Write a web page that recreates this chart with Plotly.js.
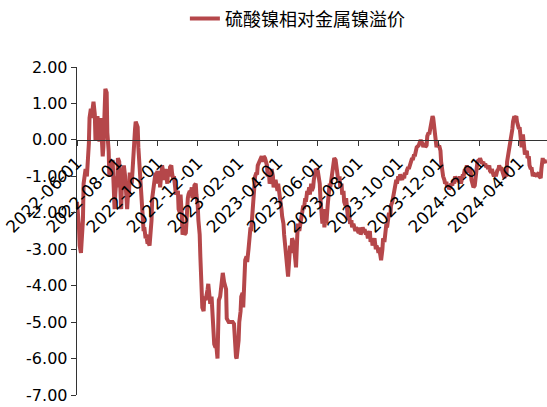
<!DOCTYPE html>
<html>
<head>
<meta charset="utf-8">
<script src="https://cdn.plot.ly/plotly-3.0.1.min.js"></script>
<style>
html,body{margin:0;padding:0;background:#fff;}
#chart{width:547px;height:407px;}
</style>
</head>
<body>
<div id="chart"></div>
<script>
// ---- data ----
const seriesName = '硫酸镍相对金属镍溢价';

const days30 = [1,2,4,5,7,8,10,11,13,14,16,17,19,20,22,23,25,26,28,29];
const days31 = [1,2,4,5,7,8,10,11,13,14,16,17,19,20,22,23,25,26,28,29,31];
const days28 = [1,2,4,5,7,8,10,11,13,14,16,17,19,20,22,23,25,26,28];
const daysMay24 = [1,2,4,5,7,8,10,11];

const months = ['2022-06','2022-07','2022-08','2022-09','2022-10','2022-11','2022-12',
  '2023-01','2023-02','2023-03','2023-04','2023-05','2023-06','2023-07','2023-08','2023-09','2023-10','2023-11','2023-12',
  '2024-01','2024-02','2024-03','2024-04','2024-05'];
const monthDays = [days30,days31,days30,days30,days30,days30,days31,
  days30,days28,days30,days30,days30,days30,days30,days31,days30,days30,days30,days30,
  days31,days28,days30,days30,daysMay24];

const v2022_06 = [-1.7,-1.9,-2.4,-2.9,-3.1,-2.8,-2.2,-1.2,-0.85,-0.8,-1.0,-0.8,-0.1,0.6,0.85,0.6,0.9,1.05,0.7,0.0];
const v2022_07 = [0.55,0.65,0.3,-0.05,0.6,-0.1,-0.45,-0.2,0.9,1.4,1.3,0.2,-0.3,-1.0,-0.6,-0.8,-0.55,-1.3,-1.9,-1.5,-1.0];
const v2022_08 = [-1.3,-0.5,-0.6,-1.2,-1.9,-1.3,-0.8,-0.7,-1.0,-1.5,-1.9,-1.6,-1.4,-0.9,-1.1,-1.2,-0.6,0.0,0.3,0.5];
const v2022_09 = [0.35,-0.2,-0.8,-1.0,-1.5,-2.0,-2.5,-2.4,-2.7,-2.6,-2.85,-2.8,-2.9,-2.7,-2.2,-1.6,-1.3,-1.1,-0.9,-1.0];
const v2022_10 = [-0.85,-1.2,-1.0,-1.3,-1.0,-0.7,-0.9,-1.1,-0.8,-0.9,-1.2,-0.8,-1.0,-0.75,-0.7,-0.9,-1.1,-1.0,-1.3,-1.5];
const v2022_11 = [-1.4,-1.9,-2.0,-1.5,-2.1,-2.6,-2.5,-2.6,-2.55,-2.0,-1.6,-1.5,-1.4,-1.5,-1.3,-1.6,-1.5,-1.25,-1.2,-1.5];
const v2022_12 = [-1.8,-2.2,-2.6,-3.2,-3.9,-4.6,-4.7,-4.3,-4.4,-4.2,-4.1,-3.95,-4.3,-4.5,-4.3,-4.6,-5.5,-5.6,-5.7,-5.6,-6.0];
const v2023_01 = [-5.2,-4.4,-4.3,-4.1,-3.8,-3.65,-3.9,-4.0,-4.1,-4.9,-5.0,-5.0,-5.0,-5.0,-5.0,-5.0,-5.05,-5.5,-5.95,-6.0];
const v2023_02 = [-5.5,-5.0,-4.7,-4.3,-4.2,-4.6,-3.5,-3.3,-3.2,-3.35,-3.0,-2.6,-2.4,-2.5,-2.0,-1.6,-1.3,-1.0,-0.9];
const v2023_03 = [-0.95,-0.7,-0.6,-0.55,-0.5,-0.45,-0.6,-0.45,-0.5,-0.55,-0.7,-1.0,-0.9,-1.2,-1.1,-0.8,-1.0,-1.3,-1.2,-1.1];
const v2023_04 = [-1.4,-1.2,-1.5,-1.6,-1.9,-2.1,-2.3,-2.6,-3.0,-3.3,-3.6,-3.75,-3.2,-2.9,-3.1,-2.7,-2.8,-2.9,-3.3,-3.5];
const v2023_05 = [-2.6,-2.3,-2.5,-2.4,-2.1,-2.0,-1.8,-1.9,-1.6,-1.7,-1.4,-1.5,-1.3,-1.5,-1.2,-1.4,-1.3,-1.1,-0.9,-0.8];
const v2023_06 = [-0.85,-1.0,-1.2,-1.6,-2.0,-2.3,-1.9,-2.4,-2.1,-2.3,-1.8,-1.4,-1.2,-1.3,-1.0,-0.8,-0.6,-0.5,-0.55,-0.7];
const v2023_07 = [-0.9,-1.1,-1.0,-1.3,-1.2,-1.5,-1.4,-1.7,-1.8,-1.6,-2.0,-2.2,-2.1,-2.3,-2.2,-2.4,-2.3,-2.4,-2.5,-2.4];
const v2023_08 = [-2.5,-2.55,-2.4,-2.6,-2.5,-2.4,-2.5,-2.45,-2.6,-2.5,-2.7,-2.6,-2.5,-2.8,-2.7,-2.9,-2.8,-2.7,-3.0,-2.9,-3.0];
const v2023_09 = [-3.1,-2.95,-3.2,-3.3,-3.0,-2.7,-2.8,-2.5,-2.3,-2.4,-2.2,-2.0,-2.1,-1.8,-1.7,-1.6,-1.5,-1.4,-1.1,-1.2];
const v2023_10 = [-1.0,-1.1,-0.95,-1.0,-1.1,-1.0,-1.05,-0.9,-0.95,-0.85,-0.75,-0.8,-0.7,-0.6,-0.5,-0.55,-0.4,-0.45,-0.3,-0.2];
const v2023_11 = [-0.15,-0.05,0.0,-0.05,-0.1,-0.2,-0.1,-0.2,-0.15,0.1,0.2,0.15,0.4,0.55,0.65,0.6,0.3,0.0,-0.2,-0.1];
const v2023_12 = [-0.2,-0.15,-0.3,-0.6,-0.9,-1.0,-1.1,-1.2,-1.15,-1.3,-1.25,-1.35,-1.3,-1.2,-1.25,-1.1,-1.2,-1.0,-1.1,-1.05];
const v2024_01 = [-1.15,-1.0,-1.2,-1.1,-0.95,-1.0,-0.8,-0.9,-0.7,-0.8,-0.9,-0.75,-0.9,-1.1,-1.2,-1.3,-1.25,-1.1,-0.9,-0.6,-0.55];
const v2024_02 = [-0.6,-0.5,-0.6,-0.65,-0.6,-0.7,-0.65,-0.75,-0.7,-0.8,-0.7,-0.85,-0.9,-0.8,-0.95,-1.0,-0.9,-1.0,-0.85];
const v2024_03 = [-0.8,-0.7,-0.8,-0.75,-0.9,-1.0,-1.05,-0.95,-1.0,-0.6,-0.4,-0.3,-0.1,0.05,0.3,0.5,0.65,0.6,0.65,0.5];
const v2024_04 = [0.3,0.35,0.1,-0.2,0.15,-0.1,-0.4,-0.35,-0.3,-0.5,-0.45,-0.7,-0.8,-0.75,-1.0,-0.9,-1.0,-0.95,-1.0,-0.95];
const v2024_05 = [-0.9,-1.0,-1.05,-0.8,-0.5,-0.6,-0.55,-0.65];

const monthValues = [v2022_06,v2022_07,v2022_08,v2022_09,v2022_10,v2022_11,v2022_12,
  v2023_01,v2023_02,v2023_03,v2023_04,v2023_05,v2023_06,v2023_07,v2023_08,v2023_09,v2023_10,v2023_11,v2023_12,
  v2024_01,v2024_02,v2024_03,v2024_04,v2024_05];

const xTickVals = ['2022-06-01','2022-08-01','2022-10-01','2022-12-01','2023-02-01','2023-04-01',
  '2023-06-01','2023-08-01','2023-10-01','2023-12-01','2024-02-01','2024-04-01'];
const yTickVals = [2,1,0,-1,-2,-3,-4,-5,-6,-7];
const yTickText = ['2.00','1.00','0.00','-1.00','-2.00','-3.00','-4.00','-5.00','-6.00','-7.00'];
const xRange = ['2022-06-01','2024-05-13 12:00'];
const yRange = [-7, 2];

// ---- build trace from the arrays ----
const pad = d => (d < 10 ? '0' : '') + d;
const xs = [], ys = [];
months.forEach((m, i) => {
  const dd = monthDays[i], vv = monthValues[i];
  const n = Math.min(dd.length, vv.length);
  for (let j = 0; j < n; j++) { xs.push(m + '-' + pad(dd[j])); ys.push(vv[j]); }
});

const lineColor = '#B5474A';
const yFont = {family: 'DejaVu Sans, Liberation Sans, Arial, sans-serif', size: 16, color: '#000'};
const xFont = {family: 'DejaVu Sans, Liberation Sans, Arial, sans-serif', size: 17, color: '#000'};

const trace = {
  x: xs, y: ys, type: 'scatter', mode: 'lines', name: seriesName,
  line: {color: lineColor, width: 4}
};

const layout = {
  width: 547, height: 407,
  margin: {l: 77, r: 0, t: 67, b: 12, pad: 0},
  paper_bgcolor: '#fff', plot_bgcolor: '#fff',
  showlegend: true,
  legend: {
    orientation: 'h', xref: 'container', yref: 'container',
    x: 0.338, y: 0.999, xanchor: 'left', yanchor: 'top',
    font: {family: 'Noto Sans CJK SC, sans-serif', size: 18, color: '#000'},
    bgcolor: 'rgba(0,0,0,0)'
  },
  xaxis: {
    type: 'date', range: xRange,
    anchor: 'free', position: (0 - yRange[0]) / (yRange[1] - yRange[0]),
    tickmode: 'array', tickvals: xTickVals, ticktext: xTickVals,
    tickangle: -45, ticks: 'outside', ticklen: 5, tickwidth: 1, tickcolor: '#333',
    ticklabeloverflow: 'allow',
    showline: true, linecolor: '#333', linewidth: 1.3,
    showgrid: false, zeroline: false,
    tickfont: xFont
  },
  yaxis: {
    range: yRange, tickmode: 'array', tickvals: yTickVals, ticktext: yTickText,
    ticks: 'outside', ticklen: 5, tickwidth: 1, tickcolor: '#333',
    showline: true, linecolor: '#333', linewidth: 1.3,
    showgrid: false, zeroline: false,
    tickfont: yFont
  }
};

Plotly.newPlot('chart', [trace], layout, {staticPlot: true, displayModeBar: false});
</script>
</body>
</html>
